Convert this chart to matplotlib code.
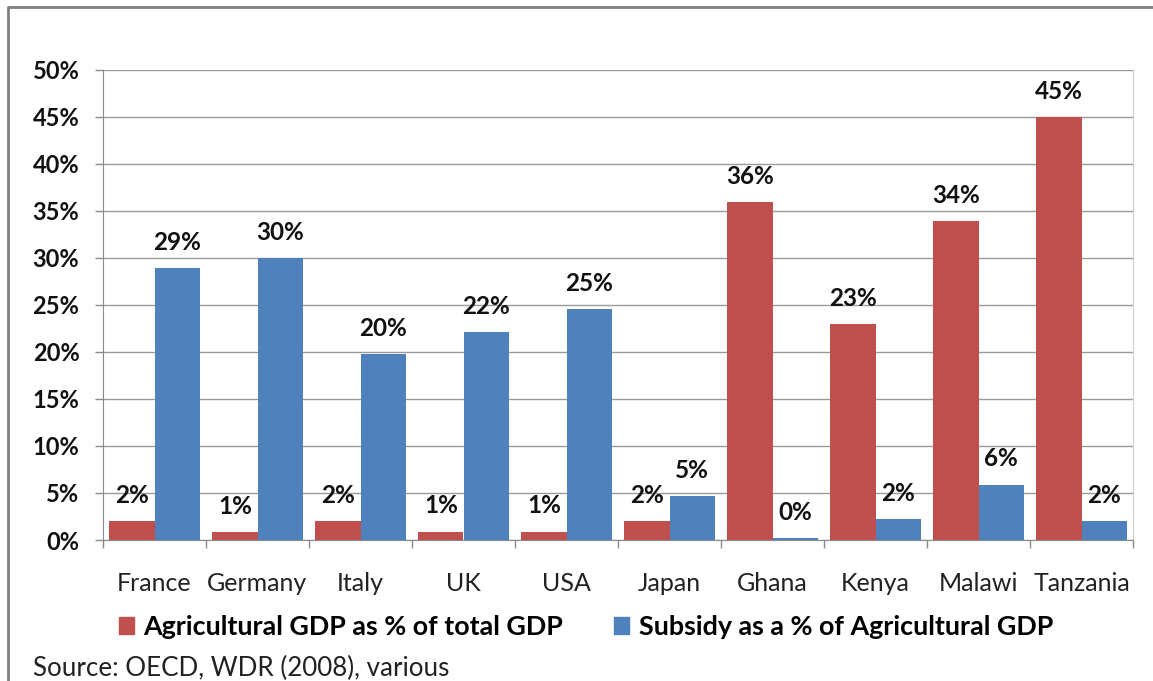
import numpy as np
import matplotlib.pyplot as plt
from matplotlib.lines import Line2D
from matplotlib.patches import Patch
from matplotlib.ticker import PercentFormatter

plt.rcParams['font.family'] = ['Lato', 'DejaVu Sans']

# данные
countries = ['France', 'Germany', 'Italy', 'UK', 'USA', 'Japan',
             'Ghana', 'Kenya', 'Malawi', 'Tanzania']
agri_gdp = [2.0, 0.85, 2.0, 0.9, 0.9, 2.0, 36.0, 23.0, 33.9, 45.0]
subsidy = [28.9, 30.0, 19.8, 22.1, 24.6, 4.7, 0.2, 2.2, 5.9, 2.0]
series_names = ['Agricultural GDP as % of total GDP',
                'Subsidy as a % of Agricultural GDP']
source_note = 'Source: OECD, WDR (2008), various'

red = '#C0504D'
blue = '#4F81BD'

fig = plt.figure(figsize=(11.53, 6.81), dpi=100)
ax = fig.add_axes([103 / 1153, 1 - 540 / 681, (1133 - 103) / 1153, (540 - 70) / 681])

x = np.arange(len(countries))
w = 0.437
b1 = ax.bar(x - w / 2, agri_gdp, width=w, color=red, zorder=3)
b2 = ax.bar(x + w / 2, subsidy, width=w, color=blue, zorder=3)

# подписи над столбцами
for bars, vals in ((b1, agri_gdp), (b2, subsidy)):
    for bar, v in zip(bars, vals):
        ax.annotate(f"{round(v)}%", (bar.get_x() + bar.get_width() / 2, v),
                    xytext=(0, 13), textcoords='offset points',
                    ha='center', va='baseline', fontsize=17.5, fontweight='bold',
                    color='#111111', zorder=4)

ax.set_xlim(-0.5, len(countries) - 0.5)
ax.set_ylim(0, 50)
ax.set_yticks(np.arange(0, 51, 5))
ax.yaxis.set_major_formatter(PercentFormatter(decimals=0))
ax.grid(axis='y', color='#9a9a9a', linewidth=1, zorder=0)

ax.set_xticks(x)
ax.set_xticklabels(countries, fontsize=18, color='#222222')
ax.set_xticks(np.arange(-0.5, len(countries)), minor=True)
ax.tick_params(axis='x', which='major', length=0, pad=23)
ax.tick_params(axis='x', which='minor', length=6, color='#8a8a8a', width=1)
ax.tick_params(axis='y', length=6, color='#8a8a8a', width=1, pad=11)
for lab in ax.get_yticklabels():
    lab.set_fontsize(17)
    lab.set_fontweight('bold')
    lab.set_color('#111111')

ax.spines['top'].set_visible(False)
ax.spines['right'].set_color('#d0d0d0')
ax.spines['left'].set_color('#8a8a8a')
ax.spines['bottom'].set_color('#8a8a8a')

# легенда
handles = [Patch(color=red), Patch(color=blue)]
fig.legend(handles, series_names, loc='center', bbox_to_anchor=(586 / 1153, 1 - 627 / 681),
           ncol=2, frameon=False, handlelength=0.55, handleheight=0.55,
           handletextpad=0.35, columnspacing=1.9,
           prop={'size': 19.4, 'weight': 'bold'})

fig.text(33 / 1153, 1 - 668 / 681, source_note, fontsize=18.7, color='#222222', va='center')

# рамка
fig.add_artist(Line2D([8 / 1153, 8 / 1153, 1], [0, 1 - 7 / 681, 1 - 7 / 681],
                      transform=fig.transFigure, color='#7f7f7f', linewidth=2))

fig.savefig('out.png', dpi=100)
